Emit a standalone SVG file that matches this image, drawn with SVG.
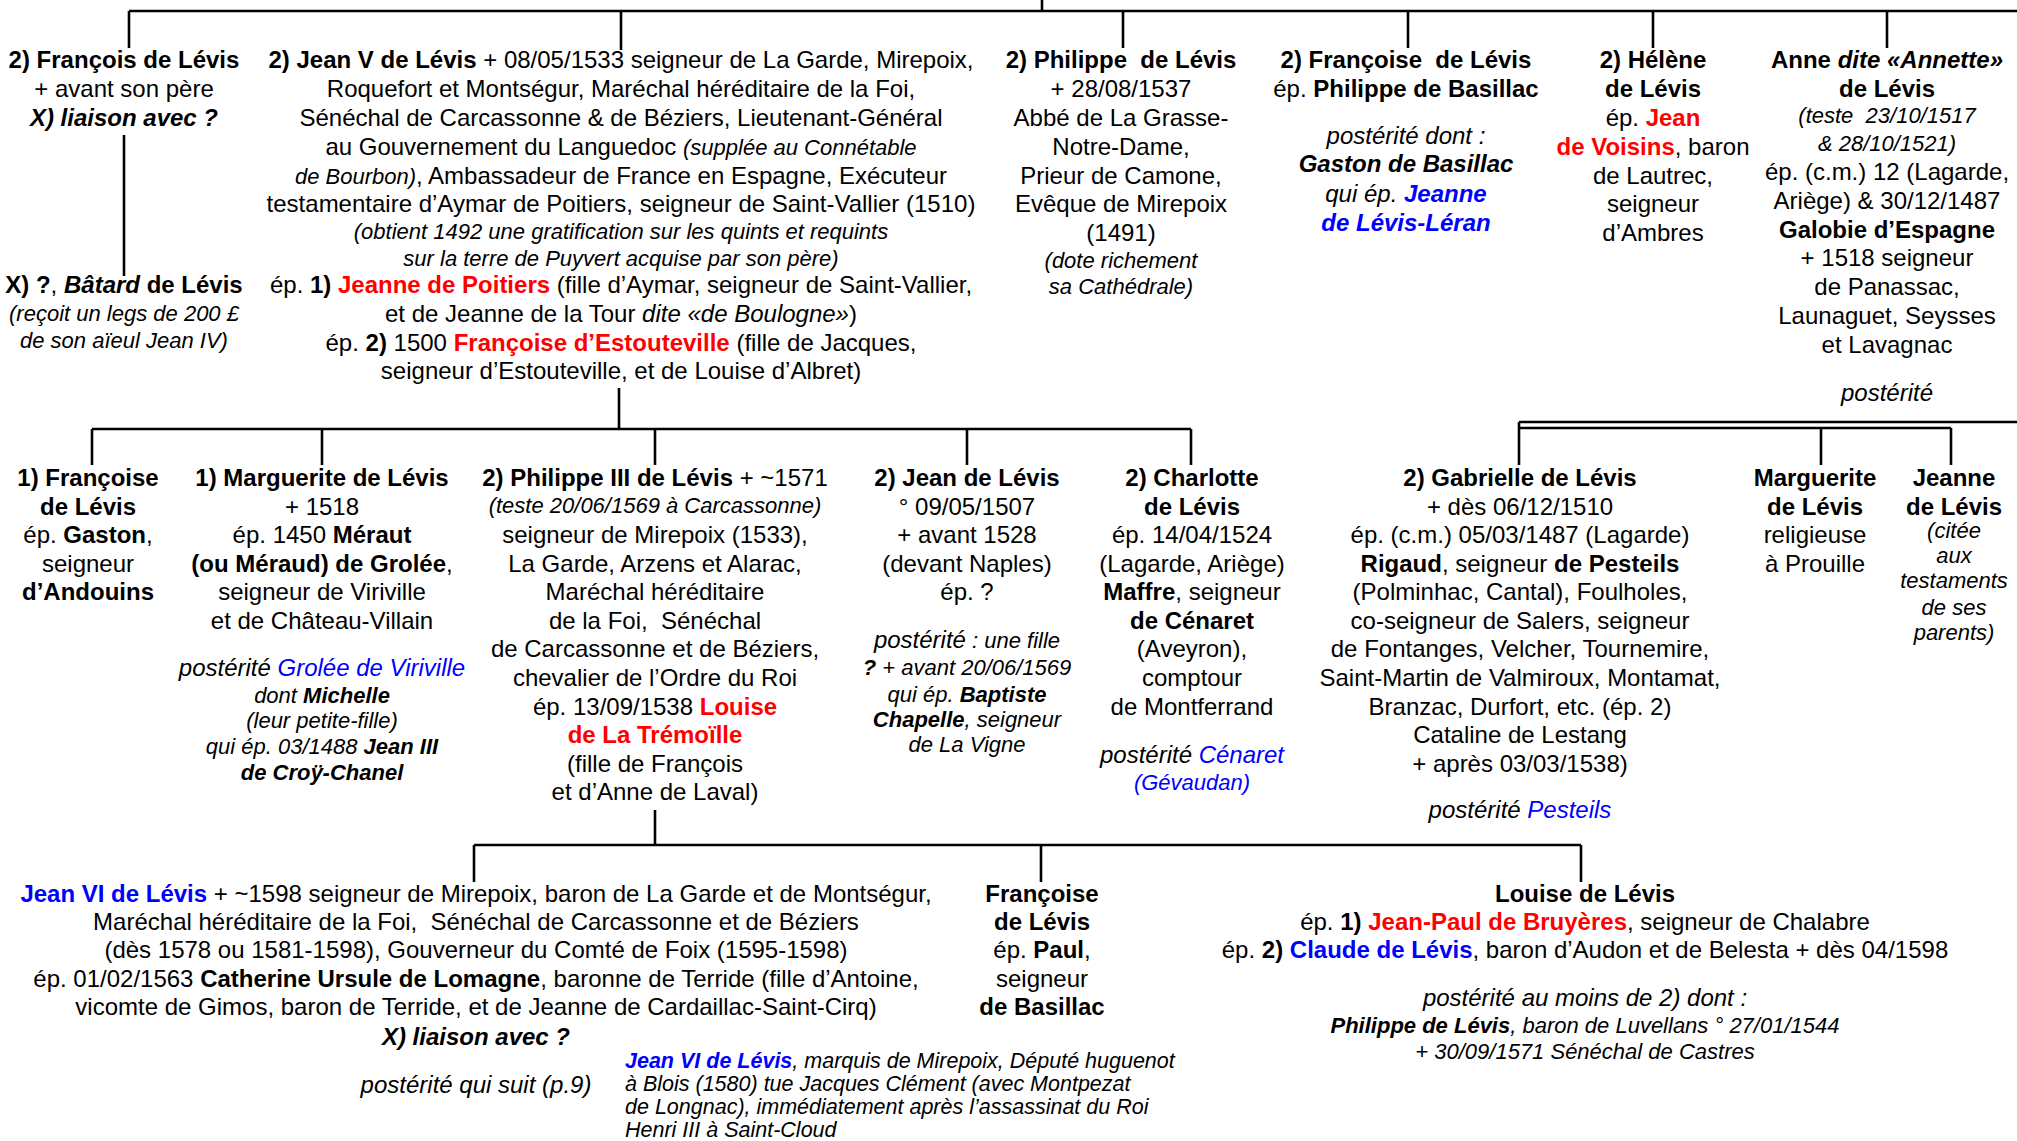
<svg xmlns="http://www.w3.org/2000/svg" width="2017" height="1141" viewBox="0 0 2017 1141">
<style>
text{font-family:"Liberation Sans",Arial,sans-serif;font-size:24px;fill:#000;text-anchor:middle}
.l{text-anchor:start}
.b{font-weight:bold}
.i{font-style:italic}
.s{font-style:italic;font-size:22px}
.n{font-style:italic;font-size:21.5px}
.r{fill:#FF0000}
.u{fill:#0000FF}
#links path{stroke:#000;stroke-width:2.6;fill:none}
</style>
<rect width="2017" height="1141" fill="#fff"/>
<g id="links">
<path d="M1042 0V11M129 11H2017M129 11V48M621 11V50M1123 11V48M1408 11V48M1653 11V48M1887 11V48"/>
<path d="M124 135V276"/>
<path d="M619 388V429M92 429H1191M92 429V465M322 429V465M655 429V465M967 429V465M1191 429V465"/>
<path d="M1519 422H2017M1519 428H1951M1519 422V465M1821 428V465M1951 428V465"/>
<path d="M655 810V845M474 845H1581M474 845V882M1041 845V882M1581 845V882"/>
</g>
<g id="francois">
<text x="124" y="68" class="b">2) François de Lévis</text>
<text x="124" y="97">+ avant son père</text>
<text x="124" y="126" class="b i">X) liaison avec ?</text>
</g>
<g id="batard">
<text x="124" y="293"><tspan class="b">X) ?</tspan>, <tspan class="b i">Bâtard</tspan><tspan class="b"> de Lévis</tspan></text>
<text x="124" y="321" class="s">(reçoit un legs de 200 £</text>
<text x="124" y="348" class="s">de son aïeul Jean IV)</text>
</g>
<g id="jeanV">
<text x="621" y="68"><tspan class="b">2) Jean V de Lévis</tspan> + 08/05/1533 seigneur de La Garde, Mirepoix,</text>
<text x="621" y="97">Roquefort et Montségur, Maréchal héréditaire de la Foi,</text>
<text x="621" y="126">Sénéchal de Carcassonne &amp; de Béziers, Lieutenant-Général</text>
<text x="621" y="155">au Gouvernement du Languedoc <tspan class="s">(supplée au Connétable</tspan></text>
<text x="621" y="184"><tspan class="s">de Bourbon)</tspan>, Ambassadeur de France en Espagne, Exécuteur</text>
<text x="621" y="212">testamentaire d’Aymar de Poitiers, seigneur de Saint-Vallier (1510)</text>
<text x="621" y="239" class="s">(obtient 1492 une gratification sur les quints et requints</text>
<text x="621" y="266" class="s">sur la terre de Puyvert acquise par son père)</text>
<text x="621" y="293">ép. <tspan class="b">1)</tspan> <tspan class="b r">Jeanne de Poitiers</tspan> (fille d’Aymar, seigneur de Saint-Vallier,</text>
<text x="621" y="322">et de Jeanne de la Tour <tspan class="i">dite «de Boulogne»</tspan>)</text>
<text x="621" y="351">ép. <tspan class="b">2)</tspan> 1500 <tspan class="b r">Françoise d’Estouteville</tspan> (fille de Jacques,</text>
<text x="621" y="379">seigneur d’Estouteville, et de Louise d’Albret)</text>
</g>
<g id="philippe">
<text x="1121" y="68" class="b">2) Philippe&#160; de Lévis</text>
<text x="1121" y="97">+ 28/08/1537</text>
<text x="1121" y="126">Abbé de La Grasse-</text>
<text x="1121" y="155">Notre-Dame,</text>
<text x="1121" y="184">Prieur de Camone,</text>
<text x="1121" y="212">Evêque de Mirepoix</text>
<text x="1121" y="241">(1491)</text>
<text x="1121" y="268" class="s">(dote richement</text>
<text x="1121" y="294" class="s">sa Cathédrale)</text>
</g>
<g id="francoise1">
<text x="1406" y="68" class="b">2) Françoise&#160; de Lévis</text>
<text x="1406" y="97">ép. <tspan class="b">Philippe de Basillac</tspan></text>
<text x="1406" y="144" class="i">postérité dont :</text>
<text x="1406" y="172" class="b i">Gaston de Basillac</text>
<text x="1406" y="202" class="i">qui ép. <tspan class="b u">Jeanne</tspan></text>
<text x="1406" y="231" class="b i u">de Lévis-Léran</text>
</g>
<g id="helene">
<text x="1653" y="68" class="b">2) Hélène</text>
<text x="1653" y="97" class="b">de Lévis</text>
<text x="1653" y="126">ép. <tspan class="b r">Jean</tspan></text>
<text x="1653" y="155"><tspan class="b r">de Voisins</tspan>, baron</text>
<text x="1653" y="184">de Lautrec,</text>
<text x="1653" y="212">seigneur</text>
<text x="1653" y="241">d’Ambres</text>
</g>
<g id="anne">
<text x="1887" y="68" class="b">Anne <tspan class="i">dite «Annette»</tspan></text>
<text x="1887" y="97" class="b">de Lévis</text>
<text x="1887" y="123" class="s">(teste&#160; 23/10/1517</text>
<text x="1887" y="151" class="s">&amp; 28/10/1521)</text>
<text x="1887" y="180">ép. (c.m.) 12 (Lagarde,</text>
<text x="1887" y="209">Ariège) &amp; 30/12/1487</text>
<text x="1887" y="238" class="b">Galobie d’Espagne</text>
<text x="1887" y="266">+ 1518 seigneur</text>
<text x="1887" y="295">de Panassac,</text>
<text x="1887" y="324">Launaguet, Seysses</text>
<text x="1887" y="353">et Lavagnac</text>
<text x="1887" y="401" class="i">postérité</text>
</g>
<g id="francoise2">
<text x="88" y="486" class="b">1) Françoise</text>
<text x="88" y="515" class="b">de Lévis</text>
<text x="88" y="543">ép. <tspan class="b">Gaston</tspan>,</text>
<text x="88" y="572">seigneur</text>
<text x="88" y="600" class="b">d’Andouins</text>
</g>
<g id="marguerite1">
<text x="322" y="486" class="b">1) Marguerite de Lévis</text>
<text x="322" y="515">+ 1518</text>
<text x="322" y="543">ép. 1450 <tspan class="b">Méraut</tspan></text>
<text x="322" y="572"><tspan class="b">(ou Méraud) de Grolée</tspan>,</text>
<text x="322" y="600">seigneur de Viriville</text>
<text x="322" y="629">et de Château-Villain</text>
<text x="322" y="676" class="i">postérité <tspan class="u">Grolée de Viriville</tspan></text>
<text x="322" y="703" class="s">dont <tspan class="b">Michelle</tspan></text>
<text x="322" y="728" class="s">(leur petite-fille)</text>
<text x="322" y="754" class="s">qui ép. 03/1488 <tspan class="b">Jean III</tspan></text>
<text x="322" y="780" class="s b">de Croÿ-Chanel</text>
</g>
<g id="philippeIII">
<text x="655" y="486"><tspan class="b">2) Philippe III de Lévis</tspan> + ~1571</text>
<text x="655" y="513" class="s">(teste 20/06/1569 à Carcassonne)</text>
<text x="655" y="543">seigneur de Mirepoix (1533),</text>
<text x="655" y="572">La Garde, Arzens et Alarac,</text>
<text x="655" y="600">Maréchal héréditaire</text>
<text x="655" y="629">de la Foi,&#160; Sénéchal</text>
<text x="655" y="657">de Carcassonne et de Béziers,</text>
<text x="655" y="686">chevalier de l’Ordre du Roi</text>
<text x="655" y="715">ép. 13/09/1538 <tspan class="b r">Louise</tspan></text>
<text x="655" y="743" class="b r">de La Trémoïlle</text>
<text x="655" y="772">(fille de François</text>
<text x="655" y="800">et d’Anne de Laval)</text>
</g>
<g id="jean">
<text x="967" y="486" class="b">2) Jean de Lévis</text>
<text x="967" y="515">° 09/05/1507</text>
<text x="967" y="543">+ avant 1528</text>
<text x="967" y="572">(devant Naples)</text>
<text x="967" y="600">ép. ?</text>
<text x="967" y="648"><tspan class="i">postérité</tspan><tspan class="s"> : une fille</tspan></text>
<text x="967" y="675" class="s"><tspan class="b">?</tspan> + avant 20/06/1569</text>
<text x="967" y="702" class="s">qui ép. <tspan class="b">Baptiste</tspan></text>
<text x="967" y="727" class="s"><tspan class="b">Chapelle</tspan>, seigneur</text>
<text x="967" y="752" class="s">de La Vigne</text>
</g>
<g id="charlotte">
<text x="1192" y="486" class="b">2) Charlotte</text>
<text x="1192" y="515" class="b">de Lévis</text>
<text x="1192" y="543">ép. 14/04/1524</text>
<text x="1192" y="572">(Lagarde, Ariège)</text>
<text x="1192" y="600"><tspan class="b">Maffre</tspan>, seigneur</text>
<text x="1192" y="629" class="b">de Cénaret</text>
<text x="1192" y="657">(Aveyron),</text>
<text x="1192" y="686">comptour</text>
<text x="1192" y="715">de Montferrand</text>
<text x="1192" y="763" class="i">postérité <tspan class="u">Cénaret</tspan></text>
<text x="1192" y="790" class="s u">(Gévaudan)</text>
</g>
<g id="gabrielle">
<text x="1520" y="486" class="b">2) Gabrielle de Lévis</text>
<text x="1520" y="515">+ dès 06/12/1510</text>
<text x="1520" y="543">ép. (c.m.) 05/03/1487 (Lagarde)</text>
<text x="1520" y="572"><tspan class="b">Rigaud</tspan>, seigneur <tspan class="b">de Pesteils</tspan></text>
<text x="1520" y="600">(Polminhac, Cantal), Foulholes,</text>
<text x="1520" y="629">co-seigneur de Salers, seigneur</text>
<text x="1520" y="657">de Fontanges, Velcher, Tournemire,</text>
<text x="1520" y="686">Saint-Martin de Valmiroux, Montamat,</text>
<text x="1520" y="715">Branzac, Durfort, etc. (ép. 2)</text>
<text x="1520" y="743">Cataline de Lestang</text>
<text x="1520" y="772">+ après 03/03/1538)</text>
<text x="1520" y="818" class="i">postérité <tspan class="u">Pesteils</tspan></text>
</g>
<g id="marguerite2">
<text x="1815" y="486" class="b">Marguerite</text>
<text x="1815" y="515" class="b">de Lévis</text>
<text x="1815" y="543">religieuse</text>
<text x="1815" y="572">à Prouille</text>
</g>
<g id="jeanne">
<text x="1954" y="486" class="b">Jeanne</text>
<text x="1954" y="515" class="b">de Lévis</text>
<text x="1954" y="538" class="s">(citée</text>
<text x="1954" y="563" class="s">aux</text>
<text x="1954" y="588" class="s">testaments</text>
<text x="1954" y="615" class="s">de ses</text>
<text x="1954" y="640" class="s">parents)</text>
</g>
<g id="jeanVI">
<text x="476" y="902"><tspan class="b u">Jean VI de Lévis</tspan> + ~1598 seigneur de Mirepoix, baron de La Garde et de Montségur,</text>
<text x="476" y="930">Maréchal héréditaire de la Foi,&#160; Sénéchal de Carcassonne et de Béziers</text>
<text x="476" y="958">(dès 1578 ou 1581-1598), Gouverneur du Comté de Foix (1595-1598)</text>
<text x="476" y="987">ép. 01/02/1563 <tspan class="b">Catherine Ursule de Lomagne</tspan>, baronne de Terride (fille d’Antoine,</text>
<text x="476" y="1015">vicomte de Gimos, baron de Terride, et de Jeanne de Cardaillac-Saint-Cirq)</text>
<text x="476" y="1045" class="b i">X) liaison avec ?</text>
<text x="476" y="1093" class="i">postérité qui suit (p.9)</text>
</g>
<g id="note">
<text x="625" y="1068" class="n l"><tspan class="b u">Jean VI de Lévis</tspan>, marquis de Mirepoix, Député huguenot</text>
<text x="625" y="1091" class="n l">à Blois (1580) tue Jacques Clément (avec Montpezat</text>
<text x="625" y="1114" class="n l">de Longnac), immédiatement après l’assassinat du Roi</text>
<text x="625" y="1137" class="n l">Henri III à Saint-Cloud</text>
</g>
<g id="francoise3">
<text x="1042" y="902" class="b">Françoise</text>
<text x="1042" y="930" class="b">de Lévis</text>
<text x="1042" y="958">ép. <tspan class="b">Paul</tspan>,</text>
<text x="1042" y="987">seigneur</text>
<text x="1042" y="1015" class="b">de Basillac</text>
</g>
<g id="louise">
<text x="1585" y="902" class="b">Louise de Lévis</text>
<text x="1585" y="930">ép. <tspan class="b">1)</tspan> <tspan class="b r">Jean-Paul de Bruyères</tspan>, seigneur de Chalabre</text>
<text x="1585" y="958">ép. <tspan class="b">2)</tspan> <tspan class="b u">Claude de Lévis</tspan>, baron d’Audon et de Belesta + dès 04/1598</text>
<text x="1585" y="1006" class="i">postérité au moins de 2) dont :</text>
<text x="1585" y="1033" class="s"><tspan class="b">Philippe de Lévis</tspan>, baron de Luvellans ° 27/01/1544</text>
<text x="1585" y="1059" class="s">+ 30/09/1571 Sénéchal de Castres</text>
</g>
</svg>
